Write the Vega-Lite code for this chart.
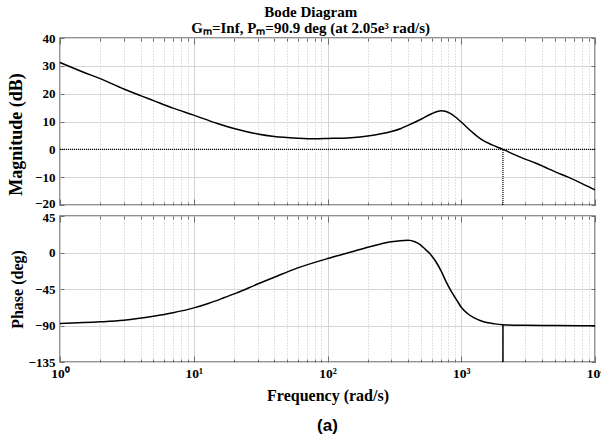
{
  "$schema": "https://vega.github.io/schema/vega-lite/v6.json",
  "padding": {"left": 6, "top": 5, "right": 0, "bottom": 0},
  "background": "white",
  "config": {
    "font": "Liberation Serif",
    "view": {"stroke": "#6f6f6f", "strokeWidth": 1.5},
    "axis": {
      "domain": false,
      "labelFont": "Liberation Serif",
      "labelFontWeight": "bold",
      "labelFontSize": 13,
      "labelColor": "black",
      "labelOverlap": false,
      "labelFlush": false,
      "titleFont": "Liberation Serif",
      "titleFontWeight": "bold",
      "titleFontSize": 16,
      "titleColor": "black",
      "tickColor": "#6f6f6f",
      "gridOpacity": 1
    }
  },
  "title": {
    "text": "Bode Diagram",
    "subtitle": "Gₘ=Inf, Pₘ=90.9 deg (at 2.05e³ rad/s)",
    "font": "Liberation Serif",
    "fontSize": 15,
    "fontWeight": "bold",
    "color": "black",
    "subtitleFont": "Liberation Serif",
    "subtitleFontSize": 15,
    "subtitleFontWeight": "bold",
    "subtitleColor": "black",
    "subtitlePadding": 1,
    "offset": -5,
    "dx": 5,
    "anchor": "middle"
  },
  "datasets": {
    "mag": [
      {"f": 1, "db": 31.2}, {"f": 1.5, "db": 27.7}, {"f": 2, "db": 25.4}, {"f": 3, "db": 21.7},
      {"f": 4, "db": 19.3}, {"f": 5, "db": 17.5}, {"f": 7, "db": 14.8}, {"f": 10, "db": 12.3},
      {"f": 15, "db": 9.3}, {"f": 21, "db": 7.2}, {"f": 30, "db": 5.5}, {"f": 40, "db": 4.6},
      {"f": 60, "db": 4.0}, {"f": 80, "db": 3.8}, {"f": 100, "db": 3.9}, {"f": 150, "db": 4.2},
      {"f": 200, "db": 4.8}, {"f": 300, "db": 6.4}, {"f": 355, "db": 7.5}, {"f": 400, "db": 8.6},
      {"f": 500, "db": 10.8}, {"f": 600, "db": 12.8}, {"f": 660, "db": 13.6}, {"f": 710, "db": 13.9},
      {"f": 760, "db": 13.7}, {"f": 820, "db": 13.0}, {"f": 900, "db": 11.7}, {"f": 1000, "db": 9.8},
      {"f": 1200, "db": 6.3}, {"f": 1413, "db": 3.6}, {"f": 1700, "db": 1.6}, {"f": 2050, "db": 0},
      {"f": 2500, "db": -1.9}, {"f": 3000, "db": -3.5}, {"f": 3590, "db": -4.9}, {"f": 4500, "db": -7.0},
      {"f": 5000, "db": -8.0}, {"f": 6300, "db": -10.0}, {"f": 8000, "db": -12.3}, {"f": 10000, "db": -14.6}
    ],
    "phase": [
      {"f": 1, "deg": -87.5}, {"f": 2, "deg": -85.5}, {"f": 3, "deg": -83.5}, {"f": 5, "deg": -78.6},
      {"f": 7, "deg": -74.3}, {"f": 10, "deg": -68.3}, {"f": 13, "deg": -62.5}, {"f": 17, "deg": -55.5},
      {"f": 21, "deg": -49.8}, {"f": 30, "deg": -38.9}, {"f": 40, "deg": -30.5}, {"f": 60, "deg": -19.0},
      {"f": 100, "deg": -7.5}, {"f": 150, "deg": 0.5}, {"f": 200, "deg": 6.5}, {"f": 250, "deg": 10.5},
      {"f": 300, "deg": 13.2}, {"f": 350, "deg": 14.6}, {"f": 400, "deg": 15.0}, {"f": 450, "deg": 13.2},
      {"f": 480, "deg": 10.8}, {"f": 530, "deg": 5.0}, {"f": 590, "deg": -2.4}, {"f": 650, "deg": -12.0},
      {"f": 708, "deg": -23.0}, {"f": 770, "deg": -36.0}, {"f": 840, "deg": -47.7}, {"f": 920, "deg": -58.0},
      {"f": 1000, "deg": -67.5}, {"f": 1120, "deg": -75.5}, {"f": 1250, "deg": -80.7}, {"f": 1413, "deg": -84.5},
      {"f": 1780, "deg": -88.0}, {"f": 2050, "deg": -89.1}, {"f": 3000, "deg": -89.8}, {"f": 5000, "deg": -90.1},
      {"f": 10000, "deg": -90.2}
    ],
    "zero": [{"db": 0}],
    "pmTop": [{"f": 2050, "db": -20, "db2": 0}],
    "pmBot": [{"f": 2050, "deg": -135, "deg2": -89.1}]
  },
  "spacing": 11,
  "bounds": "flush",
  "vconcat": [
    {
      "width": 535,
      "height": 167,
      "resolve": {"axis": {"x": "independent", "y": "independent"}},
      "layer": [
        {
          "data": {"name": "zero"},
          "mark": {"type": "rule", "color": "black", "strokeDash": [1, 1], "strokeWidth": 1.2},
          "encoding": {
            "y": {
              "field": "db", "type": "quantitative",
              "scale": {"domain": [-20, 40], "nice": false, "zero": false},
              "axis": {"orient": "right", "values": [-20, -10, 0, 10, 20, 30, 40], "labels": false, "grid": false, "title": null, "tickSize": -4}
            }
          }
        },
        {
          "data": {"name": "pmTop"},
          "mark": {"type": "rule", "color": "black", "strokeDash": [1, 1], "strokeWidth": 1.2},
          "encoding": {
            "x": {
              "field": "f", "type": "quantitative",
              "scale": {"type": "log", "domain": [1, 10000], "nice": false},
              "axis": {
                "orient": "top", "labels": false, "grid": false, "title": null,
                "values": [1,2,3,4,5,6,7,8,9,10,20,30,40,50,60,70,80,90,100,200,300,400,500,600,700,800,900,1000,2000,3000,4000,5000,6000,7000,8000,9000,10000],
                "tickSize": {"condition": {"test": "indexof([1,10,100,1000,10000], datum.value) >= 0", "value": -6}, "value": -3}
              }
            },
            "y": {"field": "db", "type": "quantitative", "axis": null},
            "y2": {"field": "db2"}
          }
        },
        {
          "data": {"name": "mag"},
          "mark": {"type": "line", "color": "black", "strokeWidth": 1.5, "interpolate": "monotone"},
          "encoding": {
            "x": {
              "field": "f", "type": "quantitative",
              "scale": {"type": "log", "domain": [1, 10000], "nice": false},
              "axis": {
                "title": null,
                "labels": false,
                "values": [1,2,3,4,5,6,7,8,9,10,20,30,40,50,60,70,80,90,100,200,300,400,500,600,700,800,900,1000,2000,3000,4000,5000,6000,7000,8000,9000,10000],
                "grid": true,
                "gridColor": {"condition": {"test": "indexof([1,10,100,1000,10000], datum.value) >= 0", "value": "#d2d2d2"}, "value": "#c4c4c4"},
                "gridDash": {"condition": {"test": "indexof([1,10,100,1000,10000], datum.value) >= 0", "value": []}, "value": [1, 2]},
                "tickSize": {"condition": {"test": "indexof([1,10,100,1000,10000], datum.value) >= 0", "value": -6}, "value": -3}
              }
            },
            "y": {
              "field": "db", "type": "quantitative",
              "scale": {"domain": [-20, 40], "nice": false, "zero": false},
              "axis": {
                "title": "Magnitude (dB)",
                "titleFontSize": 18,
                "titleY": 96,
                "values": [-20, -10, 0, 10, 20, 30, 40],
                "labelOffset": {"condition": {"test": "datum.value == -20", "value": -1.5}, "value": 0},
                "grid": true,
                "gridColor": "#d6d6d6",
                "tickSize": -4,
                "labelPadding": 9,
                "titlePadding": 9
              }
            }
          }
        }
      ]
    },
    {
      "width": 535,
      "height": 146,
      "title": {"text": "(a)", "orient": "bottom", "font": "Liberation Sans", "fontSize": 17, "fontWeight": "bold", "color": "black", "offset": 14},
      "resolve": {"axis": {"x": "independent", "y": "independent"}},
      "layer": [
        {
          "data": {"name": "pmBot"},
          "mark": {"type": "rule", "color": "black", "strokeWidth": 1.5},
          "encoding": {
            "x": {
              "field": "f", "type": "quantitative",
              "scale": {"type": "log", "domain": [1, 10000], "nice": false},
              "axis": {
                "orient": "top", "labels": false, "grid": false, "title": null,
                "values": [1,2,3,4,5,6,7,8,9,10,20,30,40,50,60,70,80,90,100,200,300,400,500,600,700,800,900,1000,2000,3000,4000,5000,6000,7000,8000,9000,10000],
                "tickSize": {"condition": {"test": "indexof([1,10,100,1000,10000], datum.value) >= 0", "value": -6}, "value": -3}
              }
            },
            "y": {
              "field": "deg", "type": "quantitative",
              "scale": {"domain": [-135, 45], "nice": false, "zero": false},
              "axis": {"orient": "right", "values": [-135, -90, -45, 0, 45], "labels": false, "grid": false, "title": null, "tickSize": -4}
            },
            "y2": {"field": "deg2"}
          }
        },
        {
          "data": {"name": "phase"},
          "mark": {"type": "line", "color": "black", "strokeWidth": 1.5, "interpolate": "monotone"},
          "encoding": {
            "x": {
              "field": "f", "type": "quantitative",
              "scale": {"type": "log", "domain": [1, 10000], "nice": false},
              "axis": {
                "title": "Frequency (rad/s)",
                "values": [1,2,3,4,5,6,7,8,9,10,20,30,40,50,60,70,80,90,100,200,300,400,500,600,700,800,900,1000,2000,3000,4000,5000,6000,7000,8000,9000,10000],
                "labelExpr": "datum.value == 1 ? '10⁰' : datum.value == 10 ? '10¹' : datum.value == 100 ? '10²' : datum.value == 1000 ? '10³' : datum.value == 10000 ? '10⁴' : ''",
                "labelFontSize": 13.5,
                "labelPadding": 10,
                "titlePadding": 5,
                "grid": true,
                "gridColor": {"condition": {"test": "indexof([1,10,100,1000,10000], datum.value) >= 0", "value": "#d2d2d2"}, "value": "#c4c4c4"},
                "gridDash": {"condition": {"test": "indexof([1,10,100,1000,10000], datum.value) >= 0", "value": []}, "value": [1, 2]},
                "tickSize": {"condition": {"test": "indexof([1,10,100,1000,10000], datum.value) >= 0", "value": -6}, "value": -3}
              }
            },
            "y": {
              "field": "deg", "type": "quantitative",
              "scale": {"domain": [-135, 45], "nice": false, "zero": false},
              "axis": {
                "title": "Phase (deg)",
                "values": [-135, -90, -45, 0, 45],
                "labelOffset": {"condition": {"test": "datum.value == 45", "value": 1.5}, "value": 0},
                "grid": true,
                "gridColor": "#d6d6d6",
                "tickSize": -4,
                "labelPadding": 9,
                "titlePadding": 3
              }
            }
          }
        }
      ]
    }
  ]
}
